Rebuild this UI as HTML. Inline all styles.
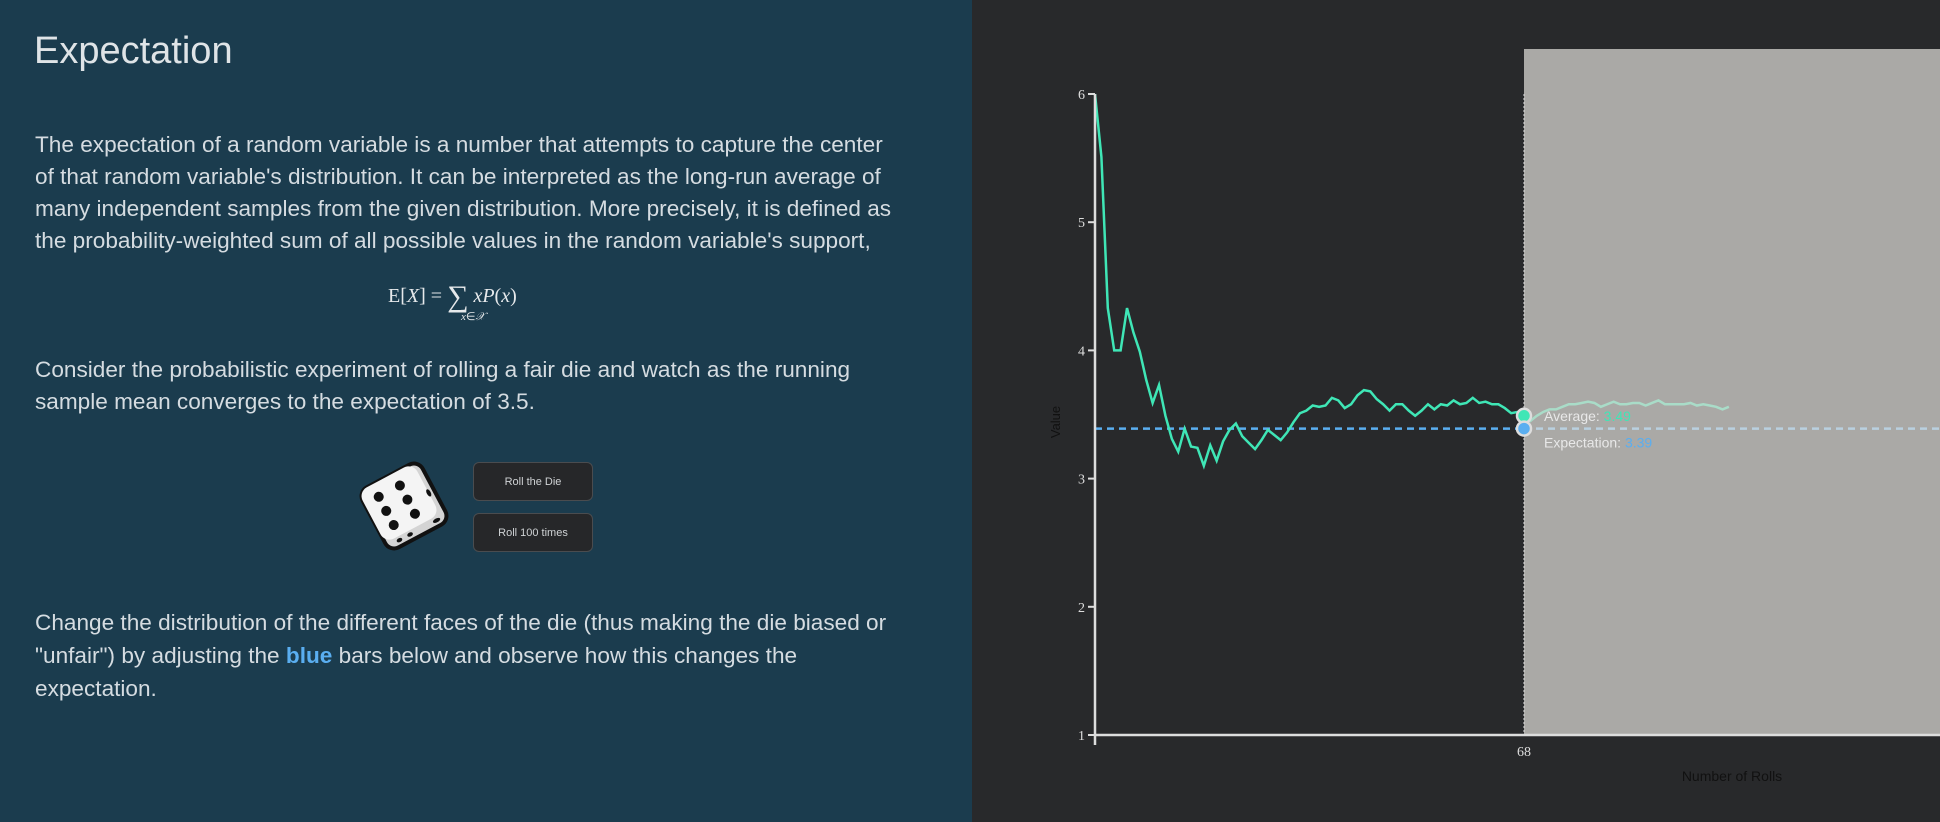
<!DOCTYPE html>
<html><head><meta charset="utf-8">
<style>
html,body{margin:0;padding:0;width:1940px;height:822px;overflow:hidden;background:#28292b;font-family:"Liberation Sans",sans-serif}
#left{position:absolute;left:0;top:0;width:972px;height:822px;background:#1b3c4e;color:#d5dce1}
.t{position:absolute;left:35px;white-space:nowrap;font-size:22.6px}
#title{position:absolute;left:34px;top:30px;font-size:38px;color:#dfe4e7;font-weight:300}
.btn{position:absolute;left:473px;width:120px;height:39px;background:#262729;border:1px solid #4a4c4f;border-radius:6px;color:#cfd2d4;font-size:11px;display:flex;align-items:center;justify-content:center;box-sizing:border-box}
#chart{position:absolute;left:972px;top:0}
</style></head><body>
<div id="left">
<div id="title">Expectation</div>
<div class="t" style="top:132px">The expectation of a random variable is a number that attempts to capture the center</div>
<div class="t" style="top:164px">of that random variable's distribution. It can be interpreted as the long-run average of</div>
<div class="t" style="top:196px">many independent samples from the given distribution. More precisely, it is defined as</div>
<div class="t" style="top:228px">the probability-weighted sum of all possible values in the random variable's support,</div>
<div style="position:absolute;left:388px;top:280px;font-family:'Liberation Serif',serif;font-size:20px;color:#e6e9eb;white-space:nowrap">E[<i>X</i>] = <span style="font-size:30px;vertical-align:-4px">∑</span> <i>xP</i>(<i>x</i>)<div style="position:absolute;left:73px;top:30px;font-size:11px"><i>x</i>∈<i>𝒳</i></div></div>
<div class="t" style="top:357px">Consider the probabilistic experiment of rolling a fair die and watch as the running</div>
<div class="t" style="top:389px">sample mean converges to the expectation of 3.5.</div>
<svg style="position:absolute;left:358px;top:458px" width="92" height="96" viewBox="0 0 92 96">
<g transform="translate(46,48) rotate(-28)">
<rect x="-34" y="-34" width="68" height="68" rx="10" fill="#d4d4d4" stroke="#111" stroke-width="4"/>
<rect x="-34" y="-34" width="62" height="58" rx="10" fill="#f4f4f4"/>
<g fill="#111"><circle cx="-18" cy="-20" r="5"/><circle cx="6" cy="-20" r="5"/><circle cx="-18" cy="-4" r="5"/><circle cx="6" cy="-4" r="5"/><circle cx="-18" cy="12" r="5"/><circle cx="6" cy="12" r="5"/>
<ellipse cx="-20" cy="28" rx="3" ry="2"/><ellipse cx="-8" cy="28" rx="3" ry="2"/><ellipse cx="22" cy="28" rx="4" ry="2"/><ellipse cx="28" cy="0" rx="2" ry="4"/></g>
</g>
</svg>
<div class="btn" style="top:462px">Roll the Die</div>
<div class="btn" style="top:513px">Roll 100 times</div>
<div class="t" style="top:610px">Change the distribution of the different faces of the die (thus making the die biased or</div>
<div class="t" style="top:643px">"unfair") by adjusting the <b style="color:#5aaef0">blue</b> bars below and observe how this changes the</div>
<div class="t" style="top:676px">expectation.</div>
</div>
<svg id="chart" width="968" height="822"></svg>
<script>
const rolledMeans=[6.0,5.51,4.33,4.0,4.0,4.33,4.14,3.99,3.77,3.59,3.73,3.49,3.31,3.21,3.39,3.25,3.24,3.10,3.26,3.14,3.29,3.38,3.43,3.33,3.28,3.23,3.30,3.38,3.34,3.30,3.36,3.44,3.51,3.53,3.57,3.56,3.57,3.63,3.61,3.55,3.58,3.65,3.69,3.68,3.62,3.58,3.53,3.58,3.58,3.53,3.49,3.53,3.58,3.54,3.58,3.57,3.61,3.58,3.59,3.63,3.59,3.60,3.58,3.58,3.55,3.51,3.52,3.49];
const futureMeans=[3.45,3.49,3.52,3.54,3.54,3.56,3.58,3.58,3.59,3.60,3.59,3.56,3.58,3.60,3.58,3.58,3.59,3.59,3.57,3.59,3.61,3.58,3.58,3.58,3.58,3.59,3.57,3.58,3.57,3.56,3.54,3.56];
const yTicks=[1,2,3,4,5,6];
const expectation=[3.39];
const currentRoll=[68];
const NS='http://www.w3.org/2000/svg';
const svg=document.getElementById('chart');
const OX=972;
const x0=1095-OX, x68=1524-OX;
const xs=i=>x0+(i-1)*(x68-x0)/(currentRoll[0]-1);
const ys=v=>735-(v-1)*(735-94)/5;
function mk(tag,attrs,parent){const e=document.createElementNS(NS,tag);for(const k in attrs)e.setAttribute(k,attrs[k]);(parent||svg).appendChild(e);return e;}
const cx=xs(currentRoll[0]);
let r=mk('rect',{x:cx,y:49,width:968-cx,height:735-49,fill:'#aaa9a6'});


let vl=mk('line',{x1:cx,x2:cx,y1:94,y2:735,stroke:'#ddd',"stroke-width":1,"stroke-dasharray":'2,2'});


const ey=ys(expectation[0]);
let e1=mk('line',{x1:x0,x2:cx,y1:ey,y2:ey,stroke:'#5aaef0',"stroke-width":2.5,"stroke-dasharray":'7,5'});


let e2=mk('line',{x1:cx,x2:968,y1:ey,y2:ey,stroke:'#b9d0df',"stroke-width":2.5,"stroke-dasharray":'7,5'});


let p1=mk('polyline',{points:rolledMeans.map((v,i)=>xs(i+1)+','+ys(v)).join(' '),fill:'none',stroke:'#3fe6b6',"stroke-width":2.5});


const fut=[rolledMeans[rolledMeans.length-1]].concat(futureMeans);
let p2=mk('polyline',{points:fut.map((v,i)=>xs(currentRoll[0]+i)+','+ys(v)).join(' '),fill:'none',stroke:'#a9dcc8',"stroke-width":2.5});


let ax=mk('line',{x1:x0,x2:x0,y1:94,y2:736,stroke:'#ddd',"stroke-width":2.5});


let bx=mk('line',{x1:x0,x2:968,y1:735,y2:735,stroke:'#ddd',"stroke-width":2.5});


mk('line',{x1:x0,x2:x0,y1:735,y2:745,stroke:'#ddd',"stroke-width":2.5});
yTicks.forEach(t=>{
  mk('line',{x1:x0-7,x2:x0,y1:ys(t),y2:ys(t),stroke:'#ddd',"stroke-width":2});
  let tx=mk('text',{x:x0-10,y:ys(t)+5,"text-anchor":'end',fill:'#ddd',"font-size":14,"font-family":'Liberation Serif,serif'});
  tx.textContent=t;
  
  
});
let xt=mk('text',{x:cx,y:756,"text-anchor":'middle',fill:'#ddd',"font-size":14,"font-family":'Liberation Serif,serif'});
xt.textContent=currentRoll[0];


let xl=mk('text',{x:1732-OX,y:781,"text-anchor":'middle',fill:'#111',"font-size":14});
xl.textContent='Number of Rolls';


let yl=mk('text',{x:0,y:0,"text-anchor":'middle',fill:'#111',"font-size":13,transform:'translate('+(1060-OX)+',422) rotate(-90)'});
yl.textContent='Value';


const av=rolledMeans[rolledMeans.length-1];
let c1=mk('circle',{cx:cx,cy:ys(av),r:7,fill:'#3fe6b6',stroke:'#ddd',"stroke-width":2.5});


let c2=mk('circle',{cx:cx,cy:ey,r:7,fill:'#5aaef0',stroke:'#ddd',"stroke-width":2.5});


let t1=mk('text',{x:cx+20,y:ys(av)+5,fill:'#e8e8e8',"font-size":14});
t1.innerHTML='Average: <tspan fill="#3fe6b6">'+av.toFixed(2)+'</tspan>';


let t2=mk('text',{x:cx+20,y:ey+19,fill:'#e8e8e8',"font-size":14});
t2.innerHTML='Expectation: <tspan fill="#5aaef0">'+expectation[0].toFixed(2)+'</tspan>';


</script>
</body></html>
